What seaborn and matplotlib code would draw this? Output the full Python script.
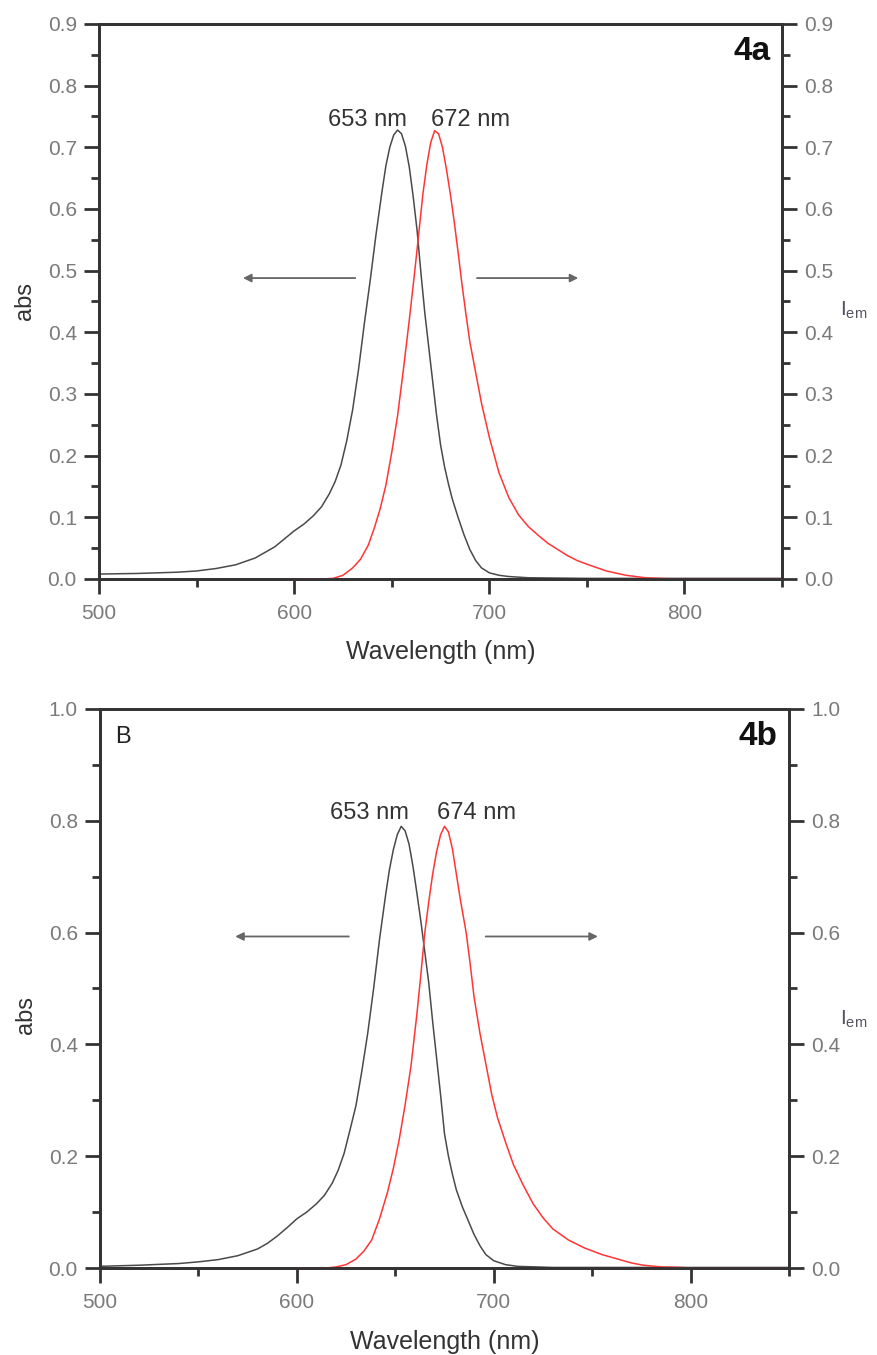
import matplotlib
matplotlib.use("Agg")
import matplotlib.pyplot as plt
from matplotlib.ticker import MultipleLocator
import seaborn as sns

# Panel 4a: absorption (left axis) and emission (right axis)
ABS_A_NM = [500, 520, 540, 550, 560, 570, 580, 590, 600, 605, 610, 614, 618, 621, 624, 627,
            630, 633, 636, 639, 642, 645, 647, 649, 651, 653, 655, 657, 659, 661, 663, 665,
            667, 669, 671, 673, 675, 677, 679, 681, 684, 687, 690, 693, 696, 700, 705, 710,
            720, 750, 800, 850]
ABS_A_VAL = [0.008, 0.009, 0.011, 0.013, 0.017, 0.023, 0.034, 0.052, 0.078, 0.089, 0.103,
             0.117, 0.138, 0.158, 0.185, 0.225, 0.275, 0.340, 0.415, 0.485, 0.560, 0.628,
             0.670, 0.700, 0.720, 0.728, 0.722, 0.702, 0.668, 0.620, 0.565, 0.495, 0.430,
             0.375, 0.320, 0.265, 0.218, 0.183, 0.155, 0.130, 0.100, 0.072, 0.048, 0.030,
             0.018, 0.010, 0.006, 0.004, 0.002, 0.001, 0.001, 0.001]
EM_A_NM = [600, 615, 620, 625, 630, 634, 638, 641, 644, 647, 650, 653, 656, 659, 662, 664,
           666, 668, 670, 672, 674, 676, 678, 680, 682, 684, 686, 688, 690, 693, 696, 700,
           705, 710, 715, 720, 725, 730, 735, 740, 745, 750, 760, 770, 780, 790, 800, 850]
EM_A_VAL = [0.0, 0.0, 0.001, 0.006, 0.018, 0.032, 0.055, 0.082, 0.113, 0.152, 0.205, 0.265,
            0.340, 0.420, 0.505, 0.565, 0.625, 0.672, 0.708, 0.727, 0.722, 0.700, 0.665,
            0.625, 0.580, 0.530, 0.478, 0.430, 0.385, 0.335, 0.285, 0.230, 0.172, 0.132,
            0.104, 0.085, 0.071, 0.058, 0.048, 0.038, 0.030, 0.024, 0.013, 0.006, 0.002,
            0.0005, 0.0, 0.0]

# Panel 4b
ABS_B_NM = [500, 520, 540, 550, 560, 570, 580, 585, 590, 595, 600, 605, 610, 614, 618, 621,
            624, 627, 630, 633, 636, 639, 642, 645, 647, 649, 651, 653, 655, 657, 659, 661,
            663, 665, 667, 669, 671, 673, 675, 677, 679, 681, 684, 687, 690, 693, 696, 700,
            706, 712, 730, 850]
ABS_B_VAL = [0.003, 0.005, 0.008, 0.011, 0.015, 0.022, 0.034, 0.044, 0.057, 0.072, 0.088,
             0.100, 0.115, 0.130, 0.152, 0.175, 0.205, 0.247, 0.290, 0.352, 0.420, 0.500,
             0.588, 0.665, 0.712, 0.748, 0.775, 0.790, 0.782, 0.758, 0.718, 0.670, 0.620,
             0.565, 0.510, 0.440, 0.375, 0.310, 0.240, 0.200, 0.168, 0.140, 0.110, 0.085,
             0.060, 0.040, 0.024, 0.013, 0.006, 0.003, 0.001, 0.001]
EM_B_NM = [600, 615, 620, 625, 630, 634, 638, 642, 646, 649, 652, 655, 658, 661, 663, 665,
           667, 669, 671, 673, 675, 677, 679, 681, 683, 686, 688, 690, 693, 696, 699, 702,
           706, 710, 715, 720, 725, 730, 738, 746, 755, 763, 770, 776, 785, 795, 800, 850]
EM_B_VAL = [0.0, 0.0, 0.002, 0.006, 0.016, 0.030, 0.050, 0.088, 0.135, 0.178, 0.230, 0.292,
            0.362, 0.455, 0.525, 0.600, 0.655, 0.705, 0.745, 0.775, 0.790, 0.780, 0.750,
            0.705, 0.660, 0.600, 0.545, 0.485, 0.420, 0.365, 0.310, 0.268, 0.225, 0.185,
            0.148, 0.115, 0.090, 0.070, 0.050, 0.036, 0.024, 0.016, 0.009, 0.005, 0.002,
            0.001, 0.0, 0.0]

PEAK_LABELS_A = [("653 nm", 637.5), ("672 nm", 690.5)]
PEAK_LABELS_B = [("653 nm", 636.8), ("674 nm", 691.4)]

COL_ABS = "#4a4a4a"
COL_EM = "#ff3535"
COL_TICKLABEL = "#7a7a7a"
COL_SPINE = "#333333"
COL_TEXT = "#333333"
FONTS = ["Liberation Sans", "DejaVu Sans"]

sns.set_theme(style="ticks")
plt.rcParams["font.family"] = FONTS
plt.rcParams["mathtext.default"] = "regular"


def style_axis(ax, side):
    ax.tick_params(axis="both", which="major", direction="out", length=11, width=2,
                   color=COL_SPINE, labelcolor=COL_TICKLABEL, labelsize=15, pad=5)
    ax.tick_params(axis="both", which="minor", direction="out", length=6, width=2,
                   color=COL_SPINE)
    ax.tick_params(axis="x", which="major", pad=7)
    for s in ax.spines.values():
        s.set_linewidth(2)
        s.set_color(COL_SPINE)
    if side == "left":
        ax.tick_params(axis="y", which="both", left=True, right=False)
    ax.tick_params(axis="x", which="both", top=False)


def draw_panel(ax, abs_x, abs_y, em_x, em_y, ymax, ystep, peak_labels, peak_y,
               tag, arrow_y, arrows, ylab_y, iem_xy, show_b=False):
    sns.lineplot(x=abs_x, y=abs_y, ax=ax, color=COL_ABS, lw=1.1, estimator=None)
    ax.set_xlim(500, 850)
    ax.set_ylim(0, ymax)
    ax.xaxis.set_major_locator(MultipleLocator(100))
    ax.xaxis.set_minor_locator(MultipleLocator(50))
    ax.yaxis.set_major_locator(MultipleLocator(ystep))
    ax.yaxis.set_minor_locator(MultipleLocator(ystep / 2))
    ax.yaxis.set_major_formatter(plt.FormatStrFormatter("%.1f"))
    style_axis(ax, "left")

    ax2 = ax.twinx()
    sns.lineplot(x=em_x, y=em_y, ax=ax2, color=COL_EM, lw=1.1, estimator=None)
    ax2.set_ylim(0, ymax)
    ax2.yaxis.set_major_locator(MultipleLocator(ystep))
    ax2.yaxis.set_minor_locator(MultipleLocator(ystep / 2))
    ax2.yaxis.set_major_formatter(plt.FormatStrFormatter("%.1f"))
    style_axis(ax2, "right")

    ax.set_xlabel("Wavelength (nm)", fontsize=18, color=COL_TEXT)
    ax.xaxis.set_label_coords(0.5, -0.11)
    ax.set_ylabel("abs", fontsize=17, color=COL_TEXT)
    ax.yaxis.set_label_coords(-0.092, ylab_y)
    ax2.set_ylabel(r"I$_{em}$", fontsize=15, color="#555060", rotation=0,
                   ha="left", va="center")
    ax2.yaxis.set_label_coords(*iem_xy)

    for text, xpos in peak_labels:
        ax.text(xpos, peak_y, text, fontsize=17, color=COL_TEXT, ha="center", va="center")

    ax.text(0.983, 0.95, tag, transform=ax.transAxes, fontsize=24, fontweight="bold",
            ha="right", va="center", color="#111111")
    if show_b:
        ax.text(0.022, 0.949, "B", transform=ax.transAxes, fontsize=17,
                ha="left", va="center", color="#222222")

    for start, end in arrows:
        ax.annotate("", xy=(end, arrow_y), xytext=(start, arrow_y),
                    arrowprops=dict(arrowstyle="-|>", color="#666666", lw=1.3,
                                    mutation_scale=12, shrinkA=0, shrinkB=0))
    return ax2


fig = plt.figure(figsize=(8.77, 13.55), dpi=100)
fig.patch.set_facecolor("white")

ax_a = fig.add_axes([0.1129, 0.5727, 0.7788, 0.4096])
draw_panel(ax_a, ABS_A_NM, ABS_A_VAL, EM_A_NM, EM_A_VAL, 0.9, 0.1,
           PEAK_LABELS_A, 0.745, "4a", 0.488,
           [(631.3, 573.8), (693.7, 745.6)], 0.5, (1.085, 0.484))

ax_b = fig.add_axes([0.1140, 0.0642, 0.7857, 0.4126])
draw_panel(ax_b, ABS_B_NM, ABS_B_VAL, EM_B_NM, EM_B_VAL, 1.0, 0.2,
           PEAK_LABELS_B, 0.813, "4b", 0.593,
           [(626.4, 568.7), (695.9, 752.9)], 0.453, (1.074, 0.444), show_b=True)

fig.savefig("out.png", dpi=100, facecolor="white")
